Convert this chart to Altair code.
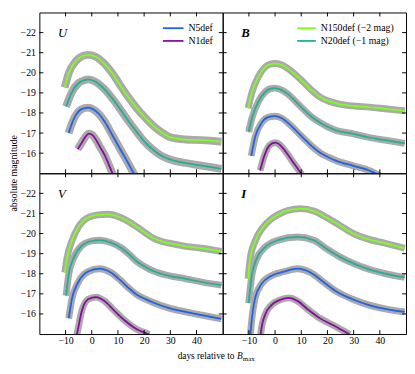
import altair as alt
import pandas as pd

FONT = "Liberation Serif"
MODELS = ["N150def", "N20def", "N5def", "N1def"]
COLORS = ["#7fff1a", "#1fb094", "#1f62e6", "#8a0aa0"]
LEGEND_LABELS = ["N150def (\u22122 mag)", "N20def (\u22121 mag)", "N5def", "N1def"]
BANDS = ["U", "B", "V", "I"]
X_TICKS = [-10, 0, 10, 20, 30, 40]
Y_TICKS = [-22, -21, -20, -19, -18, -17, -16]

# (days relative to B max, absolute magnitude as plotted incl. offsets)
U_N150 = [(-10.3, -19.27), (-8.8, -19.98), (-6.3, -20.54), (-3.9, -20.81), (-1.4, -20.89), (1.5, -20.8),
          (4.8, -20.46), (8.0, -19.95), (11.0, -19.35), (14.0, -18.78), (17.2, -18.24), (20.3, -17.78),
          (23.4, -17.37), (26.5, -17.05), (29.6, -16.81), (32.7, -16.72), (35.9, -16.68), (42.0, -16.65),
          (49.5, -16.57)]
U_N20 = [(-9.8, -18.32), (-7.6, -19.03), (-5.1, -19.48), (-3.0, -19.62), (-1.4, -19.67), (1.5, -19.55),
         (4.8, -19.19), (8.0, -18.7), (11.0, -18.16), (14.0, -17.6), (17.2, -17.05), (20.3, -16.55),
         (23.4, -16.17), (26.5, -15.88), (29.6, -15.7), (35.9, -15.51), (42.0, -15.38), (49.5, -15.22)]
U_N5 = [(-8.8, -17.0), (-7.5, -17.5), (-6.3, -17.84), (-3.9, -18.19), (-1.4, -18.27), (1.7, -18.08),
        (4.8, -17.6), (7.9, -16.89), (11.0, -16.17), (14.1, -15.46), (16.0, -15.0), (17.0, -14.8)]
U_N1 = [(-5.4, -16.2), (-3.9, -16.5), (-2.5, -16.8), (-1.1, -16.97), (0.3, -16.9), (1.7, -16.65),
        (3.2, -16.3), (4.8, -15.94), (6.4, -15.47), (7.9, -15.0), (8.8, -14.75)]

B_N150 = [(-10.3, -18.24), (-8.8, -19.03), (-6.3, -19.83), (-3.9, -20.27), (-2.0, -20.42), (-0.1, -20.46),
          (2.4, -20.4), (4.8, -20.22), (8.0, -19.88), (11.0, -19.51), (14.0, -19.13), (17.2, -18.79),
          (20.3, -18.6), (23.4, -18.48), (29.6, -18.35), (35.9, -18.29), (42.0, -18.21), (49.5, -18.11)]
B_N20 = [(-10.1, -17.05), (-8.8, -17.76), (-6.3, -18.59), (-3.9, -19.03), (-2.0, -19.2), (-0.1, -19.24),
         (2.4, -19.15), (4.8, -18.95), (8.0, -18.55), (11.0, -18.16), (14.0, -17.8), (17.2, -17.52),
         (20.3, -17.3), (23.4, -17.13), (29.6, -16.97), (35.9, -16.78), (42.0, -16.65), (49.5, -16.49)]
B_N5 = [(-9.1, -15.86), (-7.6, -16.81), (-5.1, -17.52), (-2.6, -17.79), (-0.1, -17.84), (2.4, -17.75),
        (4.8, -17.52), (8.0, -17.12), (11.0, -16.73), (14.0, -16.35), (17.2, -16.02), (20.3, -15.8),
        (23.4, -15.62), (29.6, -15.38), (35.9, -15.14), (38.3, -15.0), (40.0, -14.9)]
B_N1 = [(-5.7, -15.14), (-3.9, -15.94), (-2.0, -16.41), (0.1, -16.52), (1.5, -16.45), (3.0, -16.25),
        (4.5, -16.0), (6.1, -15.7), (8.0, -15.35), (9.8, -15.0), (10.5, -14.85)]

V_N150 = [(-10.3, -18.06), (-9.5, -18.76), (-7.6, -19.63), (-5.1, -20.33), (-1.4, -20.8), (2.3, -20.93),
          (6.1, -20.96), (11.0, -20.8), (14.0, -20.6), (17.2, -20.33), (20.3, -20.05), (23.4, -19.78),
          (26.5, -19.62), (29.6, -19.52), (35.9, -19.36), (42.0, -19.27), (49.5, -19.11)]
V_N20 = [(-9.8, -16.91), (-8.8, -17.98), (-7.0, -18.76), (-3.9, -19.39), (-0.1, -19.63), (3.0, -19.67),
         (7.3, -19.55), (11.0, -19.31), (14.0, -19.0), (17.2, -18.61), (20.3, -18.35), (23.4, -18.14),
         (29.6, -17.9), (35.9, -17.75), (42.0, -17.59), (49.5, -17.43)]
V_N5 = [(-8.8, -15.78), (-7.6, -16.73), (-5.1, -17.59), (-1.4, -18.11), (3.0, -18.25), (7.3, -18.06),
        (11.0, -17.67), (14.0, -17.3), (17.2, -16.96), (20.3, -16.75), (23.4, -16.57), (29.6, -16.29),
        (35.9, -16.1), (42.0, -15.94), (49.5, -15.75)]
V_N1 = [(-6.0, -14.8), (-5.5, -15.09), (-3.9, -16.1), (-1.4, -16.73), (1.7, -16.84), (4.8, -16.65),
        (8.5, -16.18), (12.3, -15.71), (17.2, -15.24), (21.0, -15.03), (22.0, -14.98)]

I_N150 = [(-10.3, -17.75), (-9.5, -18.76), (-7.6, -19.63), (-4.5, -20.33), (-1.4, -20.73), (1.7, -20.98),
          (4.8, -21.15), (9.8, -21.24), (14.8, -21.12), (19.7, -20.8), (24.7, -20.41), (29.6, -20.02),
          (35.9, -19.71), (42.0, -19.52), (49.5, -19.27)]
I_N20 = [(-10.1, -16.54), (-8.8, -17.98), (-7.0, -18.76), (-3.9, -19.31), (1.1, -19.67), (8.5, -19.83),
         (14.8, -19.67), (19.7, -19.24), (24.7, -18.84), (29.6, -18.53), (35.9, -18.22), (42.0, -18.01),
         (49.5, -17.82)]
I_N5 = [(-9.5, -14.9), (-9.1, -15.47), (-7.6, -16.8), (-5.1, -17.51), (-1.4, -17.9), (3.6, -18.11),
        (8.5, -18.25), (13.5, -18.06), (18.5, -17.59), (23.4, -17.12), (29.6, -16.73), (35.9, -16.44),
        (42.0, -16.25), (49.5, -16.1)]
I_N1 = [(-5.6, -14.8), (-5.4, -15.09), (-3.9, -15.94), (-1.4, -16.44), (1.7, -16.69), (5.4, -16.8),
        (8.5, -16.65), (12.3, -16.25), (17.2, -15.78), (22.2, -15.44), (27.2, -15.08), (28.5, -14.98)]

CURVES = {
    "U": [U_N150, U_N20, U_N5, U_N1],
    "B": [B_N150, B_N20, B_N5, B_N1],
    "V": [V_N150, V_N20, V_N5, V_N1],
    "I": [I_N150, I_N20, I_N5, I_N1],
}

rows = []
for band, series in CURVES.items():
    for model, pts in zip(MODELS, series):
        for t, m in pts:
            rows.append({"band": band, "model": model, "t": t, "m": m})
df = pd.DataFrame(rows)

W, H = 187, 164
TL = 4  # tick length
xs = alt.Scale(domain=[-20, 50], nice=False, zero=False)
ys = alt.Scale(domain=[-23, -15], nice=False, zero=False, reverse=True)
cs = alt.Scale(domain=MODELS, range=COLORS)
one = pd.DataFrame({"a": [0]})


def panel(band, show_x, show_y, legend_idx):
    if show_x:
        xax = alt.Axis(values=X_TICKS, ticks=False, domain=False, grid=False, labelFont=FONT,
                       labelFontSize=10, labelColor="black", labelPadding=2, title=None)
    else:
        xax = None
    if show_y:
        yax = alt.Axis(values=Y_TICKS, ticks=False, domain=False, grid=False, labelFont=FONT,
                       labelFontSize=10, labelColor="black", labelPadding=4, title=None)
    else:
        yax = None
    X = alt.X("t:Q", scale=xs, axis=xax)
    Y = alt.Y("m:Q", scale=ys, axis=yax)
    d = df[df.band == band]
    gray = alt.Chart(d).mark_line(color="#aaaaaa", strokeWidth=8 if band == "U" else 7, clip=True,
                                  interpolate="monotone").encode(x=X, y=Y, detail="model:N")
    col = alt.Chart(d).mark_line(strokeWidth=1.8, clip=True, interpolate="monotone").encode(
        x=X, y=Y, color=alt.Color("model:N", scale=cs, legend=None))
    ydf = pd.DataFrame({"m": Y_TICKS})
    xdf = pd.DataFrame({"t": X_TICKS})
    tk = dict(color="black", strokeWidth=1)
    lt = alt.Chart(ydf).mark_rule(**tk).encode(y=Y, x=alt.value(0), x2=alt.value(TL))
    rt = alt.Chart(ydf).mark_rule(**tk).encode(y=Y, x=alt.value(W - TL), x2=alt.value(W))
    tt = alt.Chart(xdf).mark_rule(**tk).encode(x=X, y=alt.value(0), y2=alt.value(TL))
    bt = alt.Chart(xdf).mark_rule(**tk).encode(x=X, y=alt.value(H - TL), y2=alt.value(H))
    label = alt.Chart(one).mark_text(text=band, font=FONT, fontSize=13, fontStyle="italic",
                                     fontWeight="bold" if band in ("B", "I") else "normal",
                                     align="left", baseline="middle", color="black").encode(
        x=alt.value(19), y=alt.value(21))
    layers = [gray, col, lt, rt, tt, bt, label]
    if legend_idx:
        x0, x1, xt = (126, 147, 152) if band == "U" else (76, 95, 100)
        for k, i in enumerate(legend_idx):
            yy = 16 + 13 * k
            layers.append(alt.Chart(one).mark_rule(color=COLORS[i], strokeWidth=1.8).encode(
                x=alt.value(x0), x2=alt.value(x1), y=alt.value(yy)))
            layers.append(alt.Chart(one).mark_text(text=LEGEND_LABELS[i], font=FONT, fontSize=10,
                                                   align="left", baseline="middle", color="black").encode(
                x=alt.value(xt), y=alt.value(yy)))
    if band == "U":
        layers.append(alt.Chart(one).mark_text(text="absolute magnitude", font=FONT, fontSize=10, angle=270,
                                               align="center", baseline="middle", color="black").encode(
            x=alt.value(-26), y=alt.value(H)))
    if band == "V":
        base_y = H + 25
        layers.append(alt.Chart(one).mark_text(text="days relative to", font=FONT, fontSize=9.5,
                                               align="right", baseline="alphabetic", color="black").encode(
            x=alt.value(199), y=alt.value(base_y)))
        layers.append(alt.Chart(one).mark_text(text="B", font=FONT, fontSize=9.5, fontStyle="italic",
                                               align="left", baseline="alphabetic", color="black").encode(
            x=alt.value(201.5), y=alt.value(base_y)))
        layers.append(alt.Chart(one).mark_text(text="max", font=FONT, fontSize=7,
                                               align="left", baseline="alphabetic", color="black").encode(
            x=alt.value(207.5), y=alt.value(base_y + 2)))
    return alt.layer(*layers).properties(width=W, height=H)


chart = alt.concat(
    panel("U", False, True, [2, 3]),
    panel("B", False, False, [0, 1]),
    panel("V", True, True, None),
    panel("I", True, False, None),
    columns=2, spacing=0, bounds="flush",
).properties(padding=0).configure_view(stroke="black", strokeWidth=1)

chart.save("out.html", embed_options={"renderer": "svg", "actions": False})
